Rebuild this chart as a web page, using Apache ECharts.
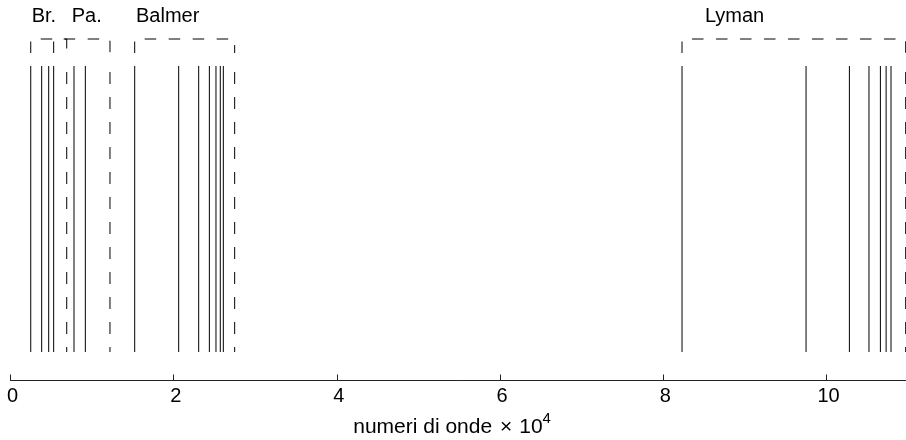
<!DOCTYPE html>
<html>
<head>
<meta charset="utf-8">
<title>Righe spettrali dell'idrogeno</title>
<script src="https://cdn.jsdelivr.net/npm/echarts@6/dist/echarts.min.js"></script>
<style>
  html, body { margin: 0; padding: 0; background: #fff; }
  #chart { width: 906px; height: 440px; }
</style>
</head>
<body>
<div id="chart"></div>
<script>
// numeri d'onda delle righe (x 10^4)
const brackettLines = [0.248, 0.382, 0.468];
const paschenLines = [0.529, 0.778, 0.917];
const balmerLines = [1.522, 2.061, 2.306, 2.437, 2.518, 2.571, 2.608];
const lymanLines = [8.229, 9.749, 10.28, 10.52, 10.66, 10.73, 10.79];

// limiti delle serie (tratteggiati) e inizio delle parentesi
const seriesLimits = [0.689, 1.219, 2.747, 10.97];
const bracketStarts = [0.248, 0.529, 1.522, 8.229];
const seriesNames = ['Br.', 'Pa.', 'Balmer', 'Lyman'];
const nameAnchors = [0.26, 0.75, 1.538, 8.51];

const xTicks = [0, 2, 4, 6, 8, 10];

// posizioni verticali (asse y invertito, in pixel dall'alto)
const LINE_TOP = 66;
const LINE_BOTTOM = 352;
const BRACKET_TOP = 39;
const BRACKET_FOOT = 53;
const NAME_Y = 16;

const FONT = '"Liberation Sans", Arial, Helvetica, sans-serif';

const allLines = [].concat(brackettLines, paschenLines, balmerLines, lymanLines);

const vline = (dash, offset) => (params, api) => {
  const x = api.value(0);
  const a = api.coord([x, LINE_TOP]);
  const b = api.coord([x, LINE_BOTTOM]);
  return {
    type: 'line',
    shape: { x1: a[0], y1: a[1], x2: b[0], y2: b[1] },
    style: { stroke: '#000', lineWidth: 1, lineDash: dash, lineDashOffset: offset }
  };
};

const chart = echarts.init(document.getElementById('chart'), null, { renderer: 'canvas' });

const option = {
  animation: false,
  backgroundColor: '#fff',
  grid: { left: 10.5, right: 0.3, top: 0, bottom: 59.5, outerBoundsMode: 'none' },
  xAxis: {
    type: 'value',
    position: 'bottom',
    min: 0,
    max: 10.97,
    interval: 2,
    name: '{t|numeri di onde }{x|×}{t|10}{s|4}',
    nameLocation: 'middle',
    nameGap: 31,
    nameTextStyle: {
      rich: {
        t: { fontFamily: FONT, fontSize: 21, color: '#000', lineHeight: 26, verticalAlign: 'bottom' },
        x: { fontFamily: FONT, fontSize: 21, color: '#000', lineHeight: 26, verticalAlign: 'bottom', padding: [0, 7, 0, 2] },
        s: { fontFamily: FONT, fontSize: 15, color: '#000', lineHeight: 15, verticalAlign: 'top', padding: [0, 12, 0, 0] }
      }
    },
    axisLine: { onZero: false, lineStyle: { color: '#222', width: 1 } },
    axisTick: { inside: true, length: 6, customValues: xTicks, lineStyle: { color: '#222' } },
    axisLabel: {
      customValues: xTicks,
      margin: 6,
      padding: [0, 0, 0, 4],
      fontFamily: FONT,
      fontSize: 20,
      color: '#000'
    },
    splitLine: { show: false }
  },
  yAxis: {
    type: 'value',
    min: 0,
    max: 380.5,
    inverse: true,
    show: false
  },
  series: [
    {
      // righe spettrali
      type: 'custom',
      clip: false,
      renderItem: vline(null, 0),
      data: allLines.map(v => [v, LINE_BOTTOM])
    },
    {
      // limiti di serie
      type: 'custom',
      clip: false,
      renderItem: vline([12, 13], 19),
      data: seriesLimits.map(v => [v, LINE_BOTTOM])
    },
    {
      // parentesi tratteggiate sopra ogni serie
      type: 'custom',
      clip: false,
      renderItem: (params, api) => {
        const x1 = api.value(0);
        const x2 = api.value(1);
        const pts = [[x1, BRACKET_FOOT], [x1, BRACKET_TOP], [x2, BRACKET_TOP], [x2, BRACKET_FOOT]]
          .map(p => api.coord(p));
        return {
          type: 'polyline',
          shape: { points: pts },
          style: { stroke: '#000', fill: null, lineWidth: 1, lineDash: [11.5, 12.5] }
        };
      },
      encode: { x: [0, 1] },
      data: bracketStarts.map((s, i) => [s, seriesLimits[i]])
    },
    {
      // nomi delle serie
      type: 'custom',
      clip: false,
      renderItem: (params, api) => {
        const p = api.coord([api.value(0), NAME_Y]);
        return {
          type: 'text',
          x: p[0],
          y: p[1],
          style: {
            text: seriesNames[params.dataIndex],
            fontFamily: FONT,
            fontSize: 20,
            fill: '#000',
            align: 'left',
            verticalAlign: 'middle'
          }
        };
      },
      data: nameAnchors.map(v => [v, NAME_Y])
    }
  ]
};

chart.setOption(option);

window.addEventListener('resize', () => {
  chart.resize();
});
</script>
</body>
</html>
